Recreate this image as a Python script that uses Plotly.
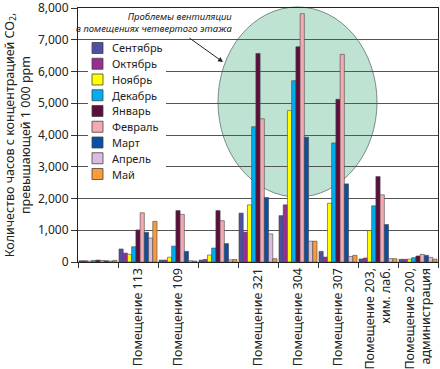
import plotly.graph_objects as go

groups = [" ", "Помещение 113", "Помещение 109", "  ", "Помещение 321",
          "Помещение 304", "Помещение 307", "Помещение 203,<br>хим. лаб.",
          "Помещение 200,<br>администрация"]

months = ["Сентябрь", "Октябрь", "Ноябрь", "Декабрь", "Январь",
          "Февраль", "Март", "Апрель", "Май"]

sep = [40, 410, 60, 60, 1540, 1460, 335, 95, 85]
oct_ = [40, 280, 60, 80, 940, 1800, 155, 125, 85]
nov = [30, 240, 150, 220, 1800, 4770, 1850, 990, 90]
dec = [50, 480, 500, 440, 4260, 5710, 3750, 1770, 135]
jan = [60, 1010, 1620, 1620, 6570, 6780, 5125, 2690, 190]
feb = [50, 1550, 1500, 1300, 4510, 7820, 6540, 2115, 240]
mar = [40, 935, 335, 580, 2030, 3930, 2460, 1180, 210]
apr = [30, 755, 40, 70, 885, 655, 175, 105, 145]
may = [50, 1280, 30, 80, 105, 655, 210, 105, 90]

series = [sep, oct_, nov, dec, jan, feb, mar, apr, may]
colors = ["#4F4FA3", "#96308F", "#FFFF00", "#00AEEF", "#5C0F3D",
          "#F5A9B3", "#0B4EA2", "#D9BDE0", "#F89C3C"]

W, H = 440, 369
L, R, T, B = 78, 2, 8, 107
PW, PH = W - L - R, H - T - B


def px_x(x):
    return (x - L) / PW


def px_y(y):
    return 1 - (y - T) / PH


fig = go.Figure()
for name, vals, col in zip(months, series, colors):
    fig.add_trace(go.Bar(x=groups, y=vals, name=name, showlegend=False,
                         marker=dict(color=col, line=dict(color="#444444", width=0.6))))

font_family = "Noto Sans, DejaVu Sans, sans-serif"

shapes = [dict(type="circle", xref="paper", yref="paper",
               x0=px_x(218), x1=px_x(377), y0=px_y(197), y1=px_y(7),
               fillcolor="#BFE3D3", line=dict(color="#7a8a84", width=1),
               layer="below")]
annotations = [
    dict(xref="paper", yref="paper", x=px_x(234), y=px_y(8), xanchor="right", yanchor="top",
         text="<i>Проблемы вентиляции</i><br><i>в помещениях четвертого этажа</i>",
         align="right", showarrow=False,
         font=dict(size=9.5, color="#222222", family=font_family)),
    dict(xref="paper", yref="paper", x=px_x(223), y=px_y(62), text="",
         showarrow=True, arrowhead=2, arrowsize=1, arrowwidth=1, arrowcolor="#222222",
         ax=-35, ay=-25),
]

# legend box (white background) and entries
shapes.append(dict(type="rect", xref="paper", yref="paper",
                   x0=px_x(88), x1=px_x(166), y0=px_y(186), y1=px_y(40),
                   fillcolor="white", line=dict(width=0), layer="above"))
for i, (name, col) in enumerate(zip(months, colors)):
    cy = 48 + 15.75 * i
    shapes.append(dict(type="rect", xref="paper", yref="paper",
                       x0=px_x(92), x1=px_x(103), y0=px_y(cy + 5.5), y1=px_y(cy - 5.5),
                       fillcolor=col, line=dict(color="#444444", width=0.8), layer="above"))
    annotations.append(dict(xref="paper", yref="paper", x=px_x(110), y=px_y(cy),
                            xanchor="left", yanchor="middle", text=name, showarrow=False,
                            font=dict(size=11, color="#222222", family=font_family)))

fig.update_layout(
    width=W, height=H,
    margin=dict(l=L, r=R, t=T, b=B, autoexpand=False),
    barmode="group", bargap=0.05, bargroupgap=0,
    paper_bgcolor="white", plot_bgcolor="rgba(0,0,0,0)",
    font=dict(family=font_family, color="#222222"),
    showlegend=False,
    shapes=shapes,
    annotations=annotations,
)

fig.update_xaxes(type="category", tickson="boundaries", ticks="outside", ticklen=5,
                 tickcolor="#333333", tickangle=-90, automargin=False,
                 ticklabeloverflow="allow",
                 showline=True, linecolor="#222222", linewidth=1, mirror=True,
                 showgrid=False, tickfont=dict(size=12.5, color="#222222"))
fig.update_yaxes(range=[0, 8000], dtick=1000, tickformat=",d", ticks="outside", ticklen=6,
                 tickcolor="#333333", automargin=False, ticklabeloverflow="allow",
                 showline=True, linecolor="#222222", linewidth=1, mirror=True,
                 showgrid=True, gridcolor="#555555", gridwidth=1,
                 tickfont=dict(size=12, color="#222222"),
                 title=dict(text="Количество часов с концентрацией CO<sub>2</sub>,<br>превышающей 1 000 ppm",
                            font=dict(size=12.5, color="#222222"), standoff=4))

fig.write_html("out.html", config={"displayModeBar": False},
               post_script="document.body.style.margin='0px';")
